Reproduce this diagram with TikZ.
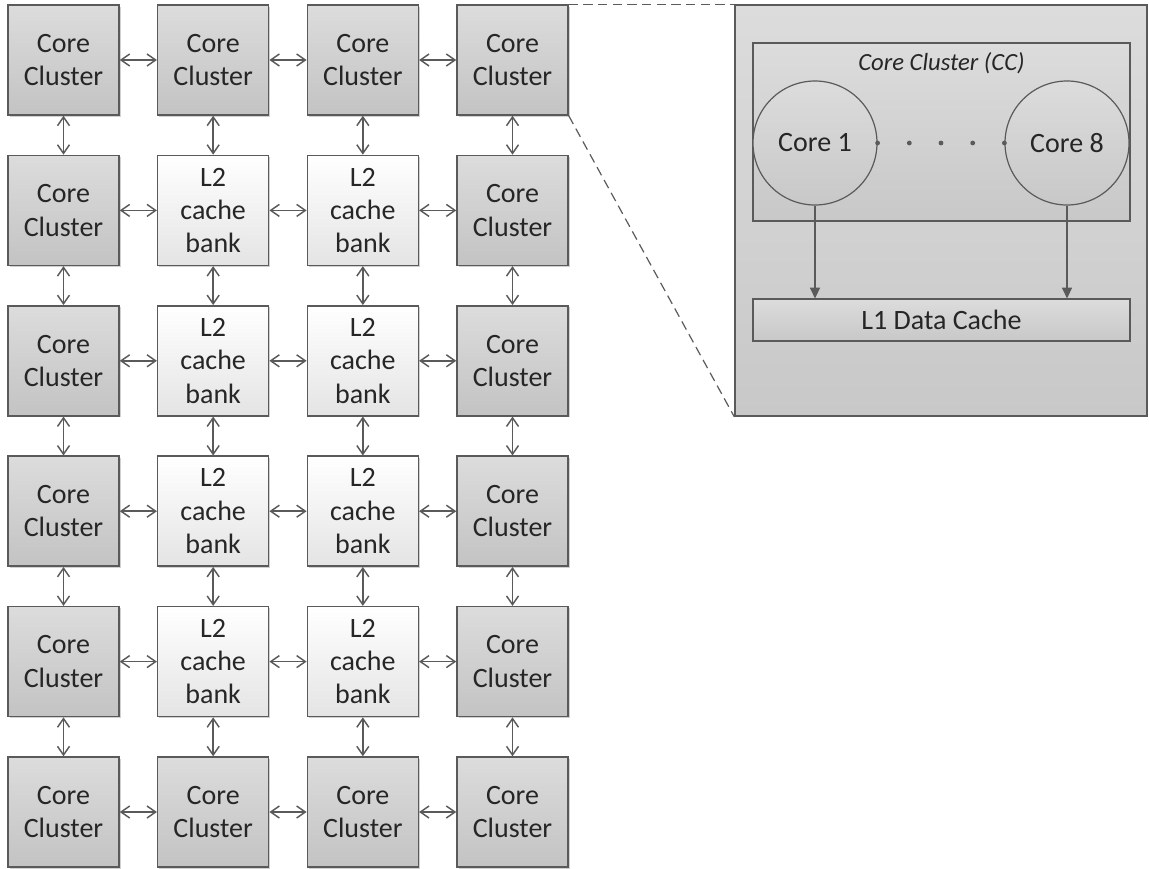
\documentclass[tikz,border=0pt]{standalone}
\usepackage{fontspec}
\setmainfont{Carlito}
\usetikzlibrary{arrows.meta,shadows,calc}
\definecolor{edge}{HTML}{5A5A5A}
\definecolor{ink}{HTML}{262626}
\definecolor{ccTop}{HTML}{DCDCDC}
\definecolor{ccBot}{HTML}{C3C3C3}
\definecolor{lTop}{HTML}{FFFFFF}
\definecolor{lBot}{HTML}{E4E4E4}
\definecolor{pTop}{HTML}{DCDCDC}
\definecolor{pBot}{HTML}{C8C8C8}
\begin{document}
\begin{tikzpicture}[x=0.75pt,y=-0.75pt,
  box/.style={draw=edge, line width=1.1pt, minimum width=83.25pt, minimum height=82.5pt,
    inner sep=0pt, align=center, font=\fontsize{21}{25}\selectfont, text=ink,
    drop shadow={shadow xshift=1.2pt, shadow yshift=-1.2pt, opacity=0.18, fill=black}},
  cc/.style={box, top color=ccTop, bottom color=ccBot},
  l2/.style={box, top color=lTop, bottom color=lBot},
  link/.style={draw=edge, line width=1.1pt,
    {Straight Barb[length=6.5pt,width=9pt]}-{Straight Barb[length=6.5pt,width=9pt]}},
  panelbox/.style={draw=edge, line width=1.1pt, top color=pTop, bottom color=pBot, inner sep=0pt},
  core/.style={circle, draw=edge, line width=0.9pt, top color=pTop, bottom color=pBot,
    minimum size=93pt, inner sep=0pt, font=\fontsize{21}{25}\selectfont, text=ink},
  feed/.style={draw=edge, line width=1.1pt, -{Triangle[length=8pt,width=7.5pt]}},
  zoomline/.style={draw=edge, line width=0.9pt, dash pattern=on 7pt off 4pt}
]
\useasboundingbox (0,0) rectangle (1149,868);

% 6 x 4 mesh: core clusters on the rim, L2 cache banks inside
\foreach \r in {1,...,6}{
  \foreach \c in {1,...,4}{
    \def\kind{cc}\def\txt{Core\\Cluster}
    \ifnum\r>1 \ifnum\r<6 \ifnum\c>1 \ifnum\c<4
      \def\kind{l2}\def\txt{L2\\cache\\bank}
    \fi\fi\fi\fi
    \node[\kind] (n\r\c) at ({63.5+149.67*(\c-1)},{60+150.4*(\r-1)}) {\txt};
  }
}

% mesh links
\foreach \r in {1,...,6}{
  \foreach \c/\d in {1/2,2/3,3/4}{
    \draw[link] (n\r\c) -- (n\r\d);
  }
}
\foreach \c in {1,...,4}{
  \foreach \r/\s in {1/2,2/3,3/4,4/5,5/6}{
    \draw[link] (n\r\c) -- (n\s\c);
  }
}

% detail of one core cluster
\node[panelbox, minimum width=309pt, minimum height=308.25pt] (panel) at (941,210.5) {};
\node[panelbox, line width=0.9pt, minimum width=282.75pt, minimum height=133.5pt] (ccbox) at (941.5,132) {};
\node[font=\itshape\fontsize{18.5}{22}\selectfont, text=ink] (cctitle) at (941.5,63) {Core Cluster (CC)};
\node[core] (core1) at (815,143) {Core 1};
\node[core] (core8) at (1067,143) {Core 8};
\foreach \t in {0,0.25,0.5,0.75,1}{
  \node[circle, fill=edge, inner sep=0pt, minimum size=3.6pt] at ($(core1.east)!\t!(core8.west)$) {};
}
\node[panelbox, line width=0.9pt, minimum width=282.75pt, minimum height=31.5pt,
  font=\fontsize{21}{25}\selectfont, text=ink] (l1) at (941.5,320) {L1 Data Cache};
\draw[feed] (core1.south) -- (core1.south |- l1.north);
\draw[feed] (core8.south) -- (core8.south |- l1.north);

% zoom guide lines
\draw[zoomline] (n14.north east) -- (panel.north west);
\draw[zoomline] (n14.south east) -- (panel.south west);
\end{tikzpicture}
\end{document}
